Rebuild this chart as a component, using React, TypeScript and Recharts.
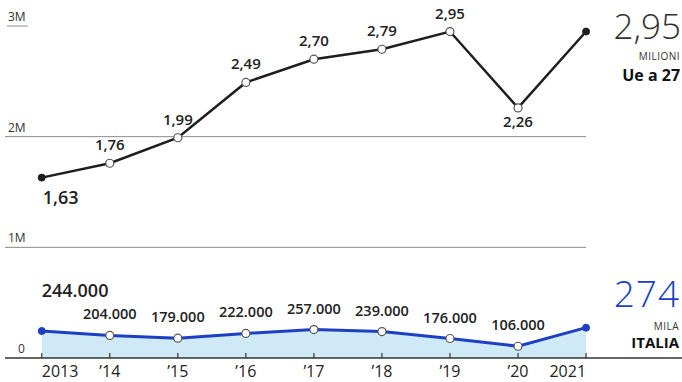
import { Area, ComposedChart, LabelList, Line, ReferenceLine, XAxis, YAxis } from 'recharts'

const years = [2013, 2014, 2015, 2016, 2017, 2018, 2019, 2020, 2021]
const yearLabels = ['2013', '’14', '’15', '’16', '’17', '’18', '’19', '’20', '2021']
// Ue a 27, milioni
const ueMillions = [1.63, 1.76, 1.99, 2.49, 2.7, 2.79, 2.95, 2.26, 2.95]
// Italia
const italia = [244000, 204000, 179000, 222000, 257000, 239000, 176000, 106000, 274000]
const yTicks = [0, 1000000, 2000000, 3000000]
const yTickLabels = ['0', '1M', '2M', '3M']

const data = years.map((year, i) => ({
  year,
  ue: ueMillions[i] * 1000000,
  ueLabel: ueMillions[i],
  italia: italia[i],
}))

const X_MIN = 2012.46
const X_MAX = 2022.41
const FONT = '"Open Sans", sans-serif'
const DARK = '#222'
const BLUE = '#1c3fc4'
const GRID = '#8a8a8a'
const last = years.length - 1

const fmtUe = (v: number) => v.toFixed(2).replace('.', ',')
const fmtIt = (v: number) => String(v).replace(/\B(?=(\d{3})+(?!\d))/g, '.')

function YearTick(props: any) {
  const { x, y, payload, index } = props
  const anchor = index === 0 ? 'start' : index === last ? 'end' : 'middle'
  return (
    <g>
      <line x1={x} x2={x} y1={y - 5} y2={y} stroke="#333" strokeWidth={1.2} />
      <text x={x} y={y + 19} textAnchor={anchor} fontSize={16} fontFamily={FONT} fill={DARK}>
        {yearLabels[years.indexOf(payload.value)]}
      </text>
    </g>
  )
}

// y-axis value label, drawn at the left end of a reference line
function ValueLabel(props: any) {
  const { viewBox, text, underline } = props
  const x = viewBox?.x ?? 0
  const y = viewBox?.y ?? 0
  const isZero = text === '0'
  return (
    <g>
      {underline && <line x1={x + 2} x2={x + 23} y1={y} y2={y} stroke={GRID} />}
      <text x={x + (isZero ? 13 : 3)} y={y - 5} textAnchor="start" fontSize={12} fontFamily={FONT} fill="#333">
        {text}
      </text>
    </g>
  )
}

function makeDot(color: string) {
  return (props: any) => {
    const { cx, cy, index } = props
    const filled = index === 0 || index === last
    return (
      <circle
        key={index}
        cx={cx}
        cy={cy}
        r={filled ? 3.5 : 4}
        fill={filled ? color : '#fff'}
        stroke={filled ? color : '#555'}
        strokeWidth={filled ? 1 : 1.2}
      />
    )
  }
}

function UeLabel(props: any) {
  const { x, y, value, index } = props
  if (index === last) {
    return (
      <g fontFamily={FONT} textAnchor="end">
        <text x={x + 95} y={y + 7} fontSize={35} fontWeight={300} fill="#333">{fmtUe(value)}</text>
        <text x={x + 94} y={y + 28} fontSize={10} letterSpacing={0.5} fill="#333">MILIONI</text>
        <text x={x + 94} y={y + 49} fontSize={16} fontWeight={700} fill="#111">Ue a 27</text>
      </g>
    )
  }
  if (index === 0) {
    return (
      <text x={x + 1} y={y + 26} fontSize={18} fontWeight={600} fontFamily={FONT} fill={DARK}>
        {fmtUe(value)}
      </text>
    )
  }
  const below = ueMillions[index] < ueMillions[index - 1] && ueMillions[index] < ueMillions[index + 1]
  return (
    <text x={x} y={below ? y + 19 : y - 13} textAnchor="middle" fontSize={15} fontWeight={600} fontFamily={FONT} fill={DARK}>
      {fmtUe(value)}
    </text>
  )
}

function ItLabel(props: any) {
  const { x, y, value, index } = props
  if (index === last) {
    return (
      <g fontFamily={FONT} textAnchor="end">
        <text x={x + 94} y={y - 21} fontSize={37} fontWeight={300} fill={BLUE} letterSpacing={1}>
          {Math.round(value / 1000)}
        </text>
        <text x={x + 93} y={y + 2} fontSize={10} letterSpacing={0.5} fill="#333">MILA</text>
        <text x={x + 93} y={y + 20} fontSize={15} fontWeight={700} fill="#111">ITALIA</text>
      </g>
    )
  }
  if (index === 0) {
    return (
      <text x={x} y={y - 34} fontSize={18} fontWeight={600} fontFamily={FONT} fill={DARK}>
        {fmtIt(value)}
      </text>
    )
  }
  return (
    <text x={x} y={y - 16} textAnchor="middle" fontSize={14.5} fontWeight={600} fontFamily={FONT} fill={DARK}>
      {fmtIt(value)}
    </text>
  )
}

export default function App() {
  return (
    <div style={{ position: 'absolute', left: 0, top: 0, width: 682, height: 382, background: '#fff' }}>
      <ComposedChart width={682} height={382} data={data} margin={{ top: 26, right: 0, bottom: 0, left: 5 }}>
        <XAxis
          dataKey="year"
          type="number"
          domain={[X_MIN, X_MAX]}
          ticks={years}
          interval={0}
          allowDataOverflow
          height={24}
          tickSize={0}
          tickMargin={0}
          tickLine={false}
          axisLine={{ stroke: '#333', strokeWidth: 1.5 }}
          tick={<YearTick />}
        />
        <YAxis hide domain={[0, 3000000]} ticks={yTicks} />
        <ReferenceLine segment={[{ x: X_MIN, y: 1000000 }, { x: 2021, y: 1000000 }]} stroke={GRID} />
        <ReferenceLine segment={[{ x: X_MIN, y: 2000000 }, { x: 2021, y: 2000000 }]} stroke={GRID} />
        {yTicks.map((v, i) => (
          <ReferenceLine
            key={v}
            y={v}
            stroke="none"
            label={<ValueLabel text={yTickLabels[i]} underline={i === yTicks.length - 1} />}
          />
        ))}
        <Area dataKey="italia" type="linear" fill="#cfeaf6" fillOpacity={1} stroke="none" isAnimationActive={false} />
        <Line
          dataKey="ue"
          type="linear"
          stroke="#1e1e1e"
          strokeWidth={2.5}
          dot={makeDot('#1e1e1e')}
          activeDot={false}
          isAnimationActive={false}
        >
          <LabelList dataKey="ueLabel" content={<UeLabel />} />
        </Line>
        <Line
          dataKey="italia"
          type="linear"
          stroke={BLUE}
          strokeWidth={3}
          dot={makeDot(BLUE)}
          activeDot={false}
          isAnimationActive={false}
        >
          <LabelList dataKey="italia" content={<ItLabel />} />
        </Line>
      </ComposedChart>
    </div>
  )
}
